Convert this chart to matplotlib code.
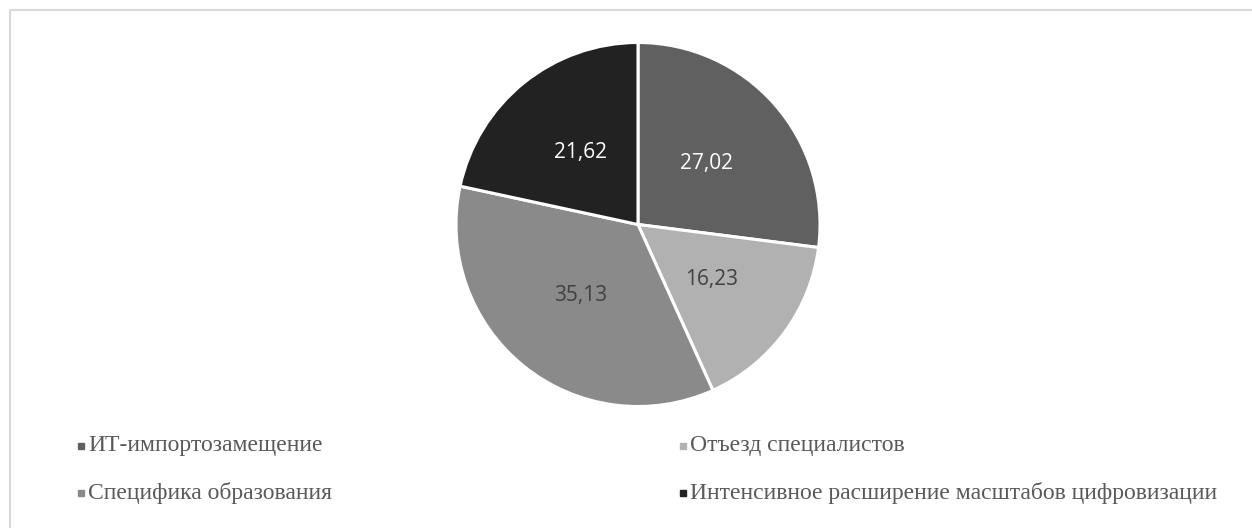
import matplotlib.pyplot as plt
from matplotlib.lines import Line2D
from matplotlib.patches import Rectangle

labels = ["ИТ-импортозамещение", "Отъезд специалистов",
          "Специфика образования", "Интенсивное расширение масштабов цифровизации"]
values = [27.02, 16.23, 35.13, 21.62]
colors = ["#606060", "#b1b1b1", "#8a8a8a", "#222222"]
label_colors = ["white", "#404040", "#404040", "white"]

W, H = 1252, 528
fig = plt.figure(figsize=(W / 100, H / 100), dpi=100)

# light frame, right and bottom edges run off the picture
fig.add_artist(Rectangle((10 / W, -0.1), 1.2, (H - 10) / H + 0.1, transform=fig.transFigure,
                         fill=False, edgecolor="#d9d9d9", linewidth=1.5))

cx, cy, r = 638, 224.5, 182
ax = fig.add_axes([(cx - r) / W, (H - cy - r) / H, 2 * r / W, 2 * r / H])
wedges, texts, autotexts = ax.pie(
    values, colors=colors, startangle=90, counterclock=False,
    autopct=lambda p: f"{p:.2f}".replace(".", ","), pctdistance=0.505,
    wedgeprops=dict(edgecolor="white", linewidth=2.2),
    textprops=dict(fontsize=15, family=["Open Sans", "DejaVu Sans"]))
for t, c in zip(autotexts, label_colors):
    t.set_color(c)
ax.set_xlim(-1, 1)
ax.set_ylim(-1, 1)
ax.set_aspect("equal")
ax.axis("off")

# legend, two rows by two columns
pos = [(81, 446), (683, 446), (81, 493), (683, 493)]
for (x, y), lab, col in zip(pos, labels, colors):
    fig.add_artist(Line2D([x / W], [(H - y) / H], marker="s", markersize=4.5,
                          color=col, linestyle="none", transform=fig.transFigure))
    fig.text((x + 7) / W, (H - y) / H, lab, fontsize=17, family="Liberation Serif",
             color="#595959", va="center", ha="left")

fig.savefig("out.png", dpi=100, facecolor="white")
